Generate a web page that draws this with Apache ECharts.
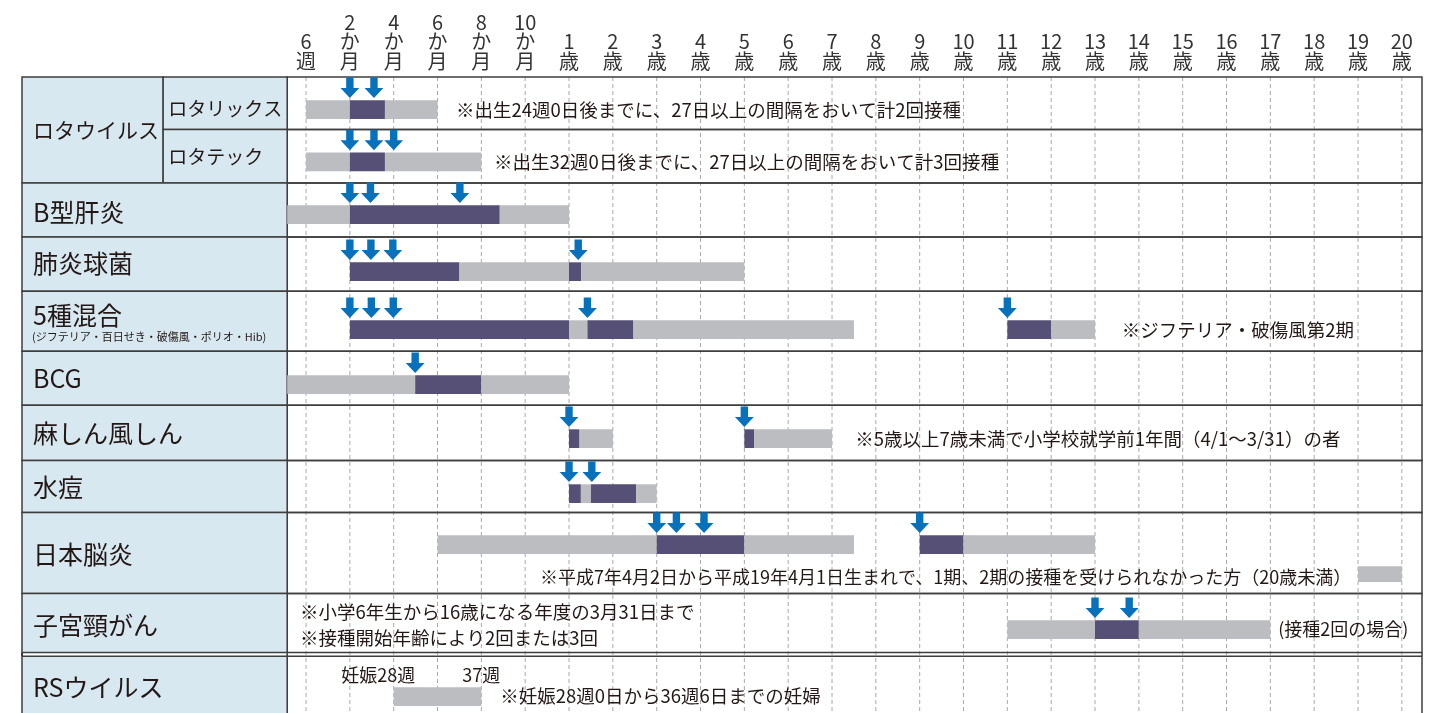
<!DOCTYPE html>
<html>
<head>
<meta charset="utf-8">
<script src="https://cdn.jsdelivr.net/npm/echarts@6/dist/echarts.min.js"></script>
<style>
  html, body { margin: 0; background: #fff; }
  #chart { width: 1455px; height: 713px; }
</style>
</head>
<body>
<div id="chart"></div>
<script>
// column labels (index 0 = 6週 ... index 25 = 20歳)
const ageLabels = ['6\n週', '2\nか\n月', '4\nか\n月', '6\nか\n月', '8\nか\n月', '10\nか\n月',
  '1\n歳', '2\n歳', '3\n歳', '4\n歳', '5\n歳', '6\n歳', '7\n歳', '8\n歳', '9\n歳', '10\n歳',
  '11\n歳', '12\n歳', '13\n歳', '14\n歳', '15\n歳', '16\n歳', '17\n歳', '18\n歳', '19\n歳', '20\n歳'];

const rowNames = ['ロタリックス', 'ロタテック', 'B型肝炎', '肺炎球菌', '5種混合', 'BCG',
  '麻しん風しん', '水痘', '日本脳炎', '子宮頸がん', 'RSウイルス'];
const groupName = 'ロタウイルス';
const subName = '(ジフテリア・百日せき・破傷風・ポリオ・Hib)';

// segments: [from, to, kind]  kind 0 = 接種可能期間, 1 = 標準的な接種期間, 2 = 注記マーカー
const segRotarix = [[0, 1, 0], [1, 1.8, 1], [1.8, 3, 0]];
const segRotateq = [[0, 1, 0], [1, 1.8, 1], [1.8, 4, 0]];
const segHepB = [[-0.43, 1, 0], [1, 4.42, 1], [4.42, 6, 0]];
const segPneumo = [[1, 3.5, 1], [3.5, 6, 0], [6, 6.28, 1], [6.28, 10, 0]];
const segFive = [[1, 6, 1], [6, 6.42, 0], [6.42, 7.47, 1], [7.47, 12.5, 0], [16, 17, 1], [17, 18, 0]];
const segBCG = [[-0.43, 2.49, 0], [2.49, 4, 1], [4, 6, 0]];
const segMR = [[6, 6.24, 1], [6.24, 7, 0], [10, 10.22, 1], [10.22, 12, 0]];
const segVaricella = [[6, 6.27, 1], [6.27, 6.5, 0], [6.5, 7.53, 1], [7.53, 8, 0]];
const segJE = [[3, 8, 0], [8, 10, 1], [10, 12.5, 0], [14, 15, 1], [15, 18, 0], [24, 25, 2]];
const segHPV = [[16, 18, 0], [18, 19, 1], [19, 22, 0]];
const segRS = [[2, 4, 0]];
const segments = [segRotarix, segRotateq, segHepB, segPneumo, segFive, segBCG, segMR, segVaricella, segJE, segHPV, segRS];

// dose arrows
const doseRotarix = [1, 1.55];
const doseRotateq = [1, 1.55, 2];
const doseHepB = [1, 1.47, 3.51];
const dosePneumo = [1, 1.48, 1.98, 6.21];
const doseFive = [1, 1.49, 1.99, 6.42, 16];
const doseBCG = [2.49];
const doseMR = [6, 10];
const doseVaricella = [6, 6.52];
const doseJE = [8, 8.45, 9.08, 14];
const doseHPV = [18, 18.78];
const doseRS = [];
const doses = [doseRotarix, doseRotateq, doseHepB, dosePneumo, doseFive, doseBCG, doseMR, doseVaricella, doseJE, doseHPV, doseRS];

// notes: [row, at, text]
const notes = [
  [0, 3.42, '※出生24週0日後までに、27日以上の間隔をおいて計2回接種'],
  [1, 4.29, '※出生32週0日後までに、27日以上の間隔をおいて計3回接種'],
  [4, 18.61, '※ジフテリア・破傷風第2期'],
  [6, 12.53, '※5歳以上7歳未満で小学校就学前1年間（4/1～3/31）の者'],
  [8, 5.34, '※平成7年4月2日から平成19年4月1日生まれで、1期、2期の接種を受けられなかった方（20歳未満）'],
  [9, -0.14, '※小学6年生から16歳になる年度の3月31日まで'],
  [9, -0.14, '※接種開始年齢により2回または3回'],
  [9, 22.18, '(接種2回の場合)'],
  [10, 2.49, '妊娠28週'],
  [10, 4.0, '37週'],
  [10, 4.43, '※妊娠28週0日から36週6日までの妊婦']
];

// ---- layout ----
const FONT = "'Noto Sans CJK JP', 'Noto Sans', sans-serif";
const X_TABLE = -6.48, X_SUB = -3.26, X_CHART = -0.43, X_END = 25.46;
const rowHeights = [52.6, 53.4, 54, 54.3, 60, 54, 55.3, 52, 81, 59, 70];
const rowGapAfter = [0, 0, 0, 0, 0, 0, 0, 0, 0, 3.7, 0];
const barOffsets = [23.3, 23, 22.3, 25.3, 29, 24, 24, 23.7, 22.7, 26.7, 31];
const labelDy = [31.3, 27.4, 29, 26.6, 24, 27, 27.7, 26.4, 41.7, 31.7, 30.7];
const labelSize = [19, 19, 25, 25, 25, 25, 25, 25, 25, 25, 25];
const noteDy = [32.6, 32.3, 38.3, 33.3, 64.4, 18.4, 44, 35.7, 19, 19, 40];
const noteAlign = ['left', 'left', 'left', 'left', 'left', 'left', 'left', 'left', 'right', 'center', 'left'];
const noteSize = [18.5, 18.5, 18.5, 18.5, 18, 18.5, 18.5, 18, 18, 18, 18.5];
const BAR_H = 18.7, MARK_DY = 53.7, MARK_H = 15.7;
const colors = ['#bcbdc1', '#564f76', '#bcbdc1'];
const ARROW = '#0772bb', BORDER = '#3e3e3e', CELL = '#d8e8f1', TEXT = '#231815';
const Y_MAX = 636;

const rowTops = [];
let acc = 0;
rowHeights.forEach((h, i) => { rowTops.push(acc); acc += h + rowGapAfter[i]; });

function rectFrom(api, xa, xb, ya, yb, style) {
  const a = api.coord([xa, ya]), b = api.coord([xb, yb]);
  return { type: 'rect', shape: { x: a[0], y: a[1], width: b[0] - a[0], height: b[1] - a[1] }, style };
}

function vline(api, x, ya, yb, width) {
  const a = api.coord([x, ya]), b = api.coord([x, yb]);
  return { type: 'line', shape: { x1: a[0], y1: a[1], x2: b[0], y2: b[1] }, style: { stroke: BORDER, lineWidth: width } };
}

function label(api, x, y, text, size, dx) {
  const p = api.coord([x, y]);
  return { type: 'text', x: p[0] + dx, y: p[1],
    style: { text, fontSize: size, fontFamily: FONT, fill: TEXT, verticalAlign: 'middle', align: 'left' } };
}

function renderGridLine(params, api) {
  const a = api.coord([api.value(0), 0]), b = api.coord([api.value(0), Y_MAX]);
  return { type: 'line', shape: { x1: a[0], y1: a[1], x2: b[0], y2: b[1] },
    style: { stroke: '#a9a9a9', lineWidth: 1, lineDash: [4, 3] } };
}

function renderRow(params, api) {
  const r = params.dataIndex;
  const y0 = rowTops[r], y1 = y0 + rowHeights[r];
  const lineStyle = { fill: 'none', stroke: BORDER, lineWidth: 1.5 };
  const cellStyle = { fill: CELL, stroke: BORDER, lineWidth: 1.5 };
  const children = [rectFrom(api, X_CHART, X_END, y0, y1, lineStyle)];
  if (r === 0) {
    children.push(rectFrom(api, X_TABLE, X_SUB, y0, y0 + rowHeights[0] + rowHeights[1], cellStyle));
    children.push(label(api, X_TABLE, y0 + 53.3, groupName, 21, 11));
  }
  if (r <= 1) {
    children.push(rectFrom(api, X_SUB, X_CHART, y0, y1, cellStyle));
    children.push(label(api, X_SUB, y0 + labelDy[r], rowNames[r], labelSize[r], 5));
  } else {
    children.push(rectFrom(api, X_TABLE, X_CHART, y0, y1, cellStyle));
    children.push(label(api, X_TABLE, y0 + labelDy[r], rowNames[r], labelSize[r], 11));
  }
  if (r === 4) {
    children.push(label(api, X_TABLE, y0 + 45.7, subName, 11, 10));
  }
  if (r === 9) {
    // keep the outer verticals continuous across the double rule
    children.push(vline(api, X_TABLE, y1, y1 + rowGapAfter[r], 2));
    children.push(vline(api, X_CHART, y1, y1 + rowGapAfter[r], 1.5));
    children.push(vline(api, X_END, y1, y1 + rowGapAfter[r], 1.5));
  }
  return { type: 'group', children };
}

const segData = [];
segments.forEach((list, r) => list.forEach(s => segData.push([s[0], s[1], r, s[2]])));

function renderSeg(params, api) {
  const s = segData[params.dataIndex];
  const r = s[2];
  let top = rowTops[r] + barOffsets[r], h = BAR_H;
  if (s[3] === 2) { top = rowTops[r] + MARK_DY; h = MARK_H; }
  return rectFrom(api, s[0], s[1], top, top + h, { fill: colors[s[3]] });
}

const doseData = [];
doses.forEach((list, r) => list.forEach(x => doseData.push([x, r])));

function renderDose(params, api) {
  const d = doseData[params.dataIndex];
  const r = d[1];
  const tip = api.coord([d[0], rowTops[r] + barOffsets[r] - 2.3]);
  const cx = tip[0], ty = tip[1];
  const pts = [[cx - 3.7, ty - 20.5], [cx + 3.7, ty - 20.5], [cx + 3.7, ty - 10], [cx + 9.4, ty - 10],
    [cx, ty], [cx - 9.4, ty - 10], [cx - 3.7, ty - 10]];
  return { type: 'polygon', shape: { points: pts }, style: { fill: ARROW } };
}

function renderNote(params, api) {
  const n = notes[params.dataIndex];
  const i = params.dataIndex;
  const p = api.coord([n[1], rowTops[n[0]] + noteDy[i]]);
  return { type: 'text', x: p[0], y: p[1],
    style: { text: n[2], fontSize: noteSize[i], fontFamily: FONT, fill: TEXT, align: noteAlign[i], verticalAlign: 'middle' } };
}

const chart = echarts.init(document.getElementById('chart'));
chart.setOption({
  animation: false,
  grid: { left: 22, right: 33, top: 77, bottom: 0 },
  xAxis: {
    type: 'value', min: X_TABLE, max: X_END, position: 'top',
    axisLine: { show: false }, axisTick: { show: false }, splitLine: { show: false },
    axisLabel: {
      customValues: ageLabels.map((_, i) => i),
      formatter: v => ageLabels[Math.round(v)],
      fontSize: 20, lineHeight: 19.5, margin: 6, color: '#333', fontFamily: FONT
    }
  },
  yAxis: { type: 'value', min: 0, max: Y_MAX, inverse: true, show: false },
  series: [
    { type: 'custom', z: 1, renderItem: renderGridLine, data: ageLabels.map((_, i) => [i]) },
    { type: 'custom', z: 2, renderItem: renderRow, data: rowNames.map((_, i) => [0, i]) },
    { type: 'custom', z: 3, renderItem: renderSeg, data: segData },
    { type: 'custom', z: 4, renderItem: renderDose, data: doseData },
    { type: 'custom', z: 5, renderItem: renderNote, data: notes.map(n => [n[1], n[0]]) }
  ]
});
</script>
</body>
</html>
